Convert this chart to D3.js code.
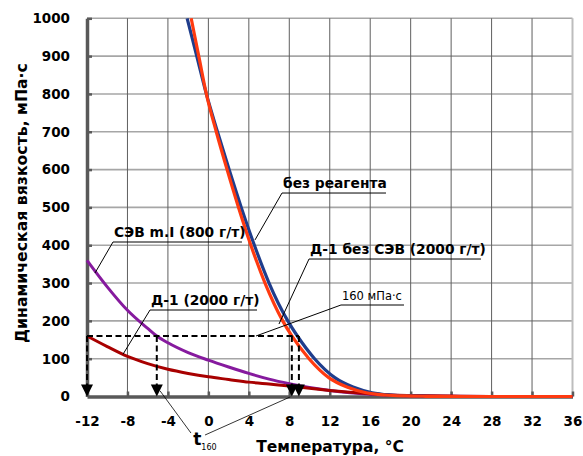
<!DOCTYPE html>
<html>
<head>
<meta charset="utf-8">
<script src="https://cdn.jsdelivr.net/npm/d3@7"></script>
<style>
  body { margin: 0; background: #fff; }
  text { font-family: "DejaVu Sans", sans-serif; }
</style>
</head>
<body>
<svg width="583" height="456"></svg>
<script>
// без реагента
const tempBlank = [-2.1, -1.15, -0.2, 0.9, 2.05, 3.25, 4.55, 6.0, 7.85, 8.8, 10.5, 12.5, 14.3, 16.2, 18, 20, 22, 24, 36];
const viscBlank = [1000, 900, 800, 700, 600, 500, 400, 300, 200, 160, 100, 50, 25, 10, 4, 1.5, 0.5, 0, 0];
// Д-1 без СЭВ (2000 г/т)
const tempD1 = [-1.7, -0.95, -0.2, 0.78, 1.85, 2.98, 4.2, 5.6, 7.35, 8.25, 9.95, 11.9, 13.7, 15.6, 17.5, 19.5, 21.5, 24, 36];
const viscD1 = [1000, 900, 800, 700, 600, 500, 400, 300, 200, 160, 100, 50, 25, 10, 4, 1.5, 0.5, 0, 0];
// СЭВ m.I (800 г/т)
const tempSev = [-12, -10, -8, -6, -5.1, -4, -2, 0, 2, 4, 6, 8, 10, 12, 14, 16, 18, 20, 24, 28, 36];
const viscSev = [360, 290, 228, 180, 160, 142, 116, 96, 78, 61, 46, 34, 24, 16, 10, 6, 3.5, 2, 0.5, 0, 0];
// Д-1 (2000 г/т)
const tempD1Sev = [-12, -10, -8, -6, -4, -2, 0, 2, 4, 6, 8, 10, 12, 14, 16, 18, 20, 24, 28, 36];
const viscD1Sev = [160, 132, 106, 87, 72, 61, 52, 45, 38, 33, 28, 22, 16, 11, 7, 4, 2.5, 1, 0, 0];

// t160 readings
const level160 = 160;
const t160 = [-12, -5.1, 8.25, 8.95];

const xTicks = d3.range(-12, 37, 4);
const yTicks = d3.range(0, 1001, 100);

const svg = d3.select("svg");
const x = d3.scaleLinear().domain([-12, 36]).range([87, 572.5]);
const y = d3.scaleLinear().domain([0, 1000]).range([396.5, 18.3]);

// grid
svg.append("g").selectAll("line")
  .data(yTicks.filter(d => d > 0))
  .join("line")
    .attr("x1", x(-12)).attr("x2", x(36))
    .attr("y1", d => y(d)).attr("y2", d => y(d))
    .attr("stroke", "#a6a6a6").attr("stroke-width", 1.6);

svg.append("g").selectAll("line")
  .data(xTicks.filter(d => d > -12 && d < 36))
  .join("line")
    .attr("x1", d => x(d)).attr("x2", d => x(d))
    .attr("y1", y(0)).attr("y2", y(1000))
    .attr("stroke", "#5f5f5f").attr("stroke-width", 1);

svg.append("line")
  .attr("x1", x(36)).attr("x2", x(36))
  .attr("y1", y(0)).attr("y2", y(1000))
  .attr("stroke", "#bdbdbd").attr("stroke-width", 2);

// axes
const fmt = d => String(d);
const yAxis = svg.append("g")
  .attr("transform", `translate(${x(-12)},0)`)
  .call(d3.axisLeft(y).tickValues(yTicks).tickFormat(fmt).tickSizeInner(-5).tickSizeOuter(0).tickPadding(17));
const xAxis = svg.append("g")
  .attr("transform", `translate(0,${y(0)})`)
  .call(d3.axisBottom(x).tickValues(xTicks).tickFormat(fmt).tickSizeInner(-5).tickSizeOuter(0).tickPadding(20));

[yAxis, xAxis].forEach(g => {
  g.select(".domain").attr("stroke", "#595959").attr("stroke-width", 3.5);
  g.selectAll(".tick line").attr("stroke", "#595959").attr("stroke-width", 2.5);
  g.selectAll(".tick text")
    .attr("fill", "#000")
    .style("font-size", "13.5px")
    .style("font-weight", "bold");
});
yAxis.selectAll(".tick").filter(d => d === 0).select("line").remove();
xAxis.selectAll(".tick").filter(d => d === -12).select("line").remove();

// curves
const line = d3.line().x(d => x(d[0])).y(d => y(d[1])).curve(d3.curveMonotoneX);
const series = [
  { t: tempSev, v: viscSev, color: "#861a9e", w: 3 },
  { t: tempD1Sev, v: viscD1Sev, color: "#a80000", w: 3 },
  { t: tempBlank, v: viscBlank, color: "#1f3d8c", w: 3.2 },
  { t: tempD1, v: viscD1, color: "#ff3a10", w: 3.2 }
];
svg.append("g").selectAll("path")
  .data(series)
  .join("path")
    .attr("d", s => line(d3.zip(s.t, s.v)))
    .attr("fill", "none")
    .attr("stroke", s => s.color)
    .attr("stroke-width", s => s.w)
    .attr("stroke-linejoin", "round");

// t160 dashed construction
const dash = svg.append("g").attr("stroke", "#000").attr("stroke-width", 2).attr("stroke-dasharray", "6,3.5").attr("fill", "none");
dash.append("line")
  .attr("x1", x(-12)).attr("x2", x(d3.max(t160)))
  .attr("y1", y(level160)).attr("y2", y(level160));
dash.selectAll("line.v")
  .data(t160)
  .join("line")
    .attr("class", "v")
    .attr("x1", d => x(d)).attr("x2", d => x(d))
    .attr("y1", y(level160)).attr("y2", y(0) - 11);
svg.append("g").selectAll("path")
  .data(t160)
  .join("path")
    .attr("d", d => `M${x(d)},${y(0)}l-6,-12h12z`)
    .attr("fill", "#000");

// callouts: underline start (t, v), underline end t, pointer (t, v)
const callouts = [
  { text: "без реагента", t: 7.28, v: 538, t2: 17.56, pt: 4.61, pv: 414, size: 13.8, bold: true },
  { text: "СЭВ m.I (800 г/т)", t: -9.43, v: 408.5, t2: 3.32, pt: -11.21, pv: 326.5, size: 13.8, bold: true },
  { text: "Д-1 (2000 г/т)", t: -5.77, v: 228.7, t2: 4.81, pt: -8.44, pv: 111.7, size: 13.8, bold: true },
  { text: "Д-1 без СЭВ (2000 г/т)", t: 9.95, v: 363.5, t2: 26.95, pt: 6.98, pv: 191.6, size: 13.8, bold: true },
  { text: "160 мПа·с", t: 13.11, v: 241.9, t2: 19.34, pt: 4.71, pv: 160, size: 11.5, bold: false }
];
const co = svg.append("g").selectAll("g").data(callouts).join("g");
co.append("path")
  .attr("d", c => `M${x(c.pt)},${y(c.pv)}L${x(c.t)},${y(c.v)}H${x(c.t2)}`)
  .attr("fill", "none").attr("stroke", "#000").attr("stroke-width", 1);
co.append("text")
  .attr("x", c => x(c.t) + 1)
  .attr("y", c => y(c.v) - 5)
  .style("font-size", c => c.size + "px")
  .style("font-weight", c => c.bold ? "bold" : "normal")
  .text(c => c.text);

// t160 label and pointers
const tLabel = { t: -1.5, v: -128 };
svg.append("path")
  .attr("d", `M${x(-1.72)},${y(-96.6)}L${x(-4.78)},${y(15)}M${x(-0.33)},${y(-101.8)}L${x(8.1)},${y(-1)}`)
  .attr("fill", "none").attr("stroke", "#000").attr("stroke-width", 0.8);
const tt = svg.append("text")
  .attr("x", x(tLabel.t)).attr("y", y(tLabel.v))
  .style("font-size", "17px").style("font-weight", "bold");
tt.append("tspan").text("t");
tt.append("tspan").attr("dy", 5).style("font-size", "8px").style("font-weight", "normal").text("160");

// axis titles
svg.append("text")
  .attr("x", 330).attr("y", 452)
  .attr("text-anchor", "middle")
  .style("font-size", "15.5px").style("font-weight", "bold")
  .text("Температура, °С");
svg.append("text")
  .attr("transform", "translate(27,203) rotate(-90)")
  .attr("text-anchor", "middle")
  .style("font-size", "15.7px").style("font-weight", "bold")
  .text("Динамическая вязкость, мПа·с");
</script>
</body>
</html>
